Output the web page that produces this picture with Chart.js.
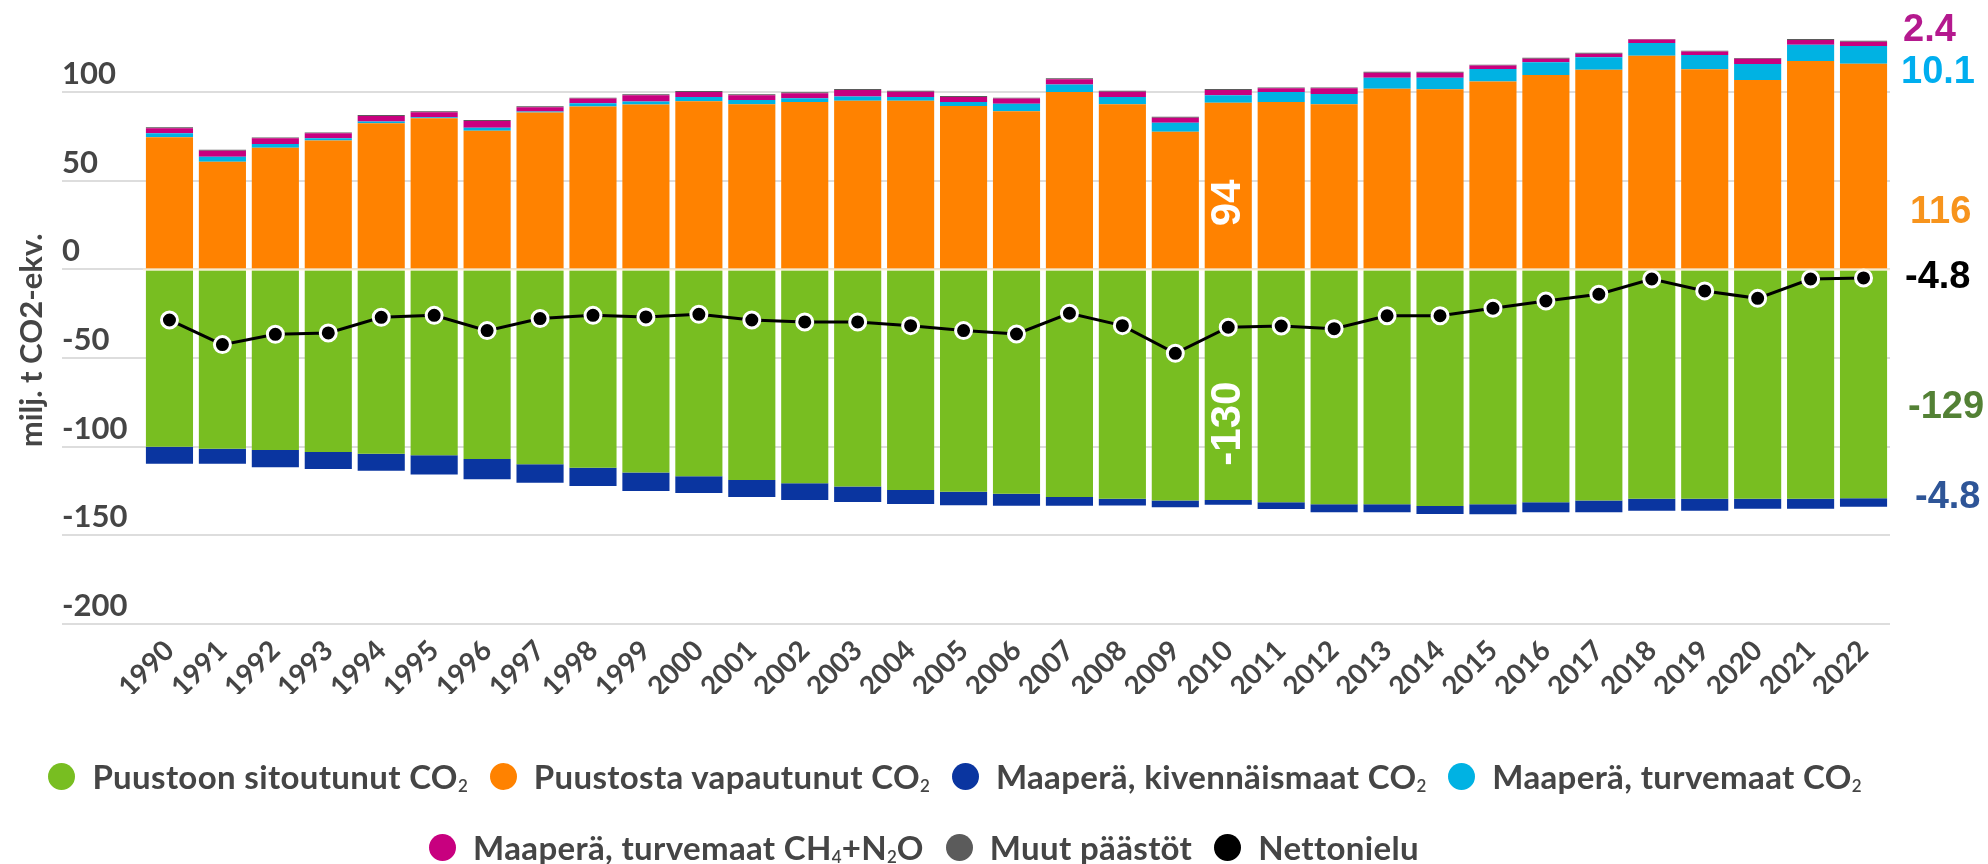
<!DOCTYPE html>
<html><head><meta charset="utf-8">
<script src="https://cdn.jsdelivr.net/npm/chart.js@4.4.1/dist/chart.umd.min.js"></script>
<style>
html,body{margin:0;padding:0;background:#fff;}
#wrap{position:relative;width:1988px;height:864px;overflow:hidden;background:#fff;}
#c{position:absolute;left:0;top:0;}
.lrow{position:absolute;left:0;display:flex;justify-content:center;align-items:center;height:40px;font-family:Lato,"Open Sans",sans-serif;font-weight:700;font-size:33px;letter-spacing:0.35px;color:#454545;white-space:nowrap;}
.litem{display:flex;align-items:center;margin:0 11px;}
.ldot{width:27px;height:27px;border-radius:50%;margin-right:17px;flex:none;}
.litem sub{font-size:17px;vertical-align:baseline;position:relative;top:3px;font-weight:600;letter-spacing:0;}
</style></head>
<body><div id="wrap"><canvas id="c" width="1988" height="864"></canvas>
<div id="row1" class="lrow" style="top:756px;width:1910px"></div>
<div id="row2" class="lrow" style="top:827px;width:1848px"></div>
</div>
<script>
// ---- data ----
const years = ['1990','1991','1992','1993','1994','1995','1996','1997','1998','1999','2000','2001','2002','2003','2004','2005','2006','2007','2008','2009','2010','2011','2012','2013','2014','2015','2016','2017','2018','2019','2020','2021','2022'];

const seriesLabels = ['Puustoon sitoutunut CO₂','Puustosta vapautunut CO₂','Maaperä, kivennäismaat CO₂','Maaperä, turvemaat CO₂','Maaperä, turvemaat CH₄+N₂O','Muut päästöt','Nettonielu'];

const sitoutunut = [-100.0,-101.1,-101.8,-103.0,-103.9,-104.8,-106.9,-109.9,-111.8,-114.6,-116.7,-118.8,-120.6,-122.5,-124.4,-125.4,-126.5,-128.4,-129.3,-130.4,-130.0,-131.3,-132.5,-132.5,-133.4,-132.5,-131.3,-130.4,-129.3,-129.3,-129.3,-129.3,-129.0];
const vapautunut = [74.6,60.8,68.7,72.7,82.5,85.3,78.3,88.5,91.9,93.0,94.9,93.2,94.5,95.2,95.2,92.2,89.3,100.1,93.2,77.7,94.0,94.5,93.2,102.0,101.7,106.0,109.7,112.6,120.5,113.0,106.9,117.6,116.0];
const kivennais = [-9.6,-8.5,-9.8,-9.6,-9.6,-10.8,-11.5,-10.4,-10.4,-10.4,-9.4,-9.6,-9.5,-8.7,-7.9,-7.6,-6.8,-4.9,-3.9,-3.8,-2.8,-3.8,-4.5,-4.5,-4.5,-5.6,-5.6,-6.6,-6.8,-6.8,-5.7,-5.7,-4.8];
const turveCO2 = [2.2,2.8,2.1,1.3,0.9,0.6,1.7,0.6,1.9,1.7,2.4,2.4,2.1,2.3,2.1,2.3,4.2,4.2,4.1,5.0,4.3,5.6,5.8,6.2,6.5,7.1,7.2,7.1,7.3,8.0,9.0,9.1,10.1];
const turveCH4N2O = [2.9,3.4,3.2,2.8,3.2,2.8,3.8,2.4,2.6,3.6,2.8,2.7,2.8,3.8,3.0,2.8,2.9,3.0,3.0,2.9,3.0,2.1,3.2,2.8,2.8,1.9,2.0,2.0,1.9,1.9,2.9,2.8,2.4];
const muut = [0.5,0.5,0.5,0.5,0.5,0.5,0.5,0.5,0.5,0.5,0.5,0.5,0.5,0.5,0.5,0.5,0.5,0.5,0.5,0.5,0.5,0.5,0.5,0.5,0.5,0.5,0.5,0.5,0.5,0.5,0.5,0.5,0.5];
const nettonielu = [-28.5,-42.4,-36.6,-35.8,-27.0,-25.9,-34.5,-27.7,-25.9,-26.8,-25.3,-28.5,-29.6,-29.6,-31.7,-34.5,-36.4,-24.7,-31.7,-47.3,-32.6,-31.9,-33.4,-26.1,-26.1,-21.9,-17.8,-14.0,-5.4,-12.1,-16.3,-5.4,-4.8];

const yTickValues = [-200,-150,-100,-50,0,50,100];

// ---- styling ----
const FONT = 'Lato, "Open Sans", sans-serif';
const COL = {green:'#78be21', orange:'#ff8200', blue:'#0a35a0', cyan:'#00b2e3', magenta:'#c8007f', gray:'#5b5b5b', black:'#000000'};

const last = years.length - 1;
const idx2010 = years.indexOf('2010');
const fmt1 = v => v.toFixed(1);
const fmt0 = v => Math.round(v).toString();

// right-side annotations: text from data, placement in value units
const rightNotes = [
  {text: fmt1(turveCH4N2O[last]), yv: 135,    dx: 13, color:'#b4198e'},
  {text: fmt1(turveCO2[last]),    yv: 111,    dx: 11, color:'#00aeef'},
  {text: fmt0(vapautunut[last]),  yv: 32,     dx: 20, color:'#f7941d'},
  {text: fmt1(nettonielu[last]),  yv: -4.8,   dx: 15, color:'#000000'},
  {text: fmt0(sitoutunut[last]),  yv: -78,    dx: 18, color:'#538135'},
  {text: fmt1(kivennais[last]),   yv: -128.6, dx: 25, color:'#2e5597'}
];
const inBarNotes = [
  {text: fmt0(vapautunut[idx2010]), yv: 37.5},
  {text: fmt0(sitoutunut[idx2010]), yv: -87}
];

const annotPlugin = {
  id: 'annot',
  afterDatasetsDraw(chart) {
    const {ctx, chartArea, scales: {x, y}} = chart;
    ctx.save();
    const y0 = y.getPixelForValue(0);
    ctx.strokeStyle = 'rgba(255,240,200,0.7)';
    ctx.lineWidth = 2;
    ctx.beginPath(); ctx.moveTo(chartArea.left, y0); ctx.lineTo(chartArea.right, y0); ctx.stroke();
    const xb = x.getPixelForValue(idx2010);
    ctx.fillStyle = '#ffffff';
    ctx.font = 'bold 42px "Liberation Sans", Arial, sans-serif';
    ctx.textAlign = 'center'; ctx.textBaseline = 'middle';
    inBarNotes.forEach(n => {
      ctx.save();
      ctx.translate(xb, y.getPixelForValue(n.yv));
      ctx.rotate(-Math.PI / 2);
      ctx.fillText(n.text, 0, 0);
      ctx.restore();
    });
    ctx.font = 'bold 38px "Liberation Sans", Arial, sans-serif';
    ctx.textAlign = 'left';
    rightNotes.forEach(n => {
      ctx.fillStyle = n.color;
      ctx.fillText(n.text, chartArea.right + n.dx, y.getPixelForValue(n.yv));
    });
    ctx.save();
    ctx.translate(32, y.getPixelForValue(-40));
    ctx.rotate(-Math.PI / 2);
    ctx.fillStyle = '#454545';
    ctx.font = 'bold 31px ' + FONT;
    ctx.textAlign = 'center'; ctx.textBaseline = 'middle';
    ctx.fillText('milj. t CO2-ekv.', 0, 0);
    ctx.restore();
    ctx.restore();
  }
};

const barBase = {type: 'bar', stack: 's', barPercentage: 0.89, categoryPercentage: 1.0, borderWidth: 0, order: 2};

const chart = new Chart(document.getElementById('c'), {
  data: {
    labels: years,
    datasets: [
      {...barBase, label: seriesLabels[0], data: sitoutunut, backgroundColor: COL.green},
      {...barBase, label: seriesLabels[1], data: vapautunut, backgroundColor: COL.orange},
      {...barBase, label: seriesLabels[2], data: kivennais, backgroundColor: COL.blue},
      {...barBase, label: seriesLabels[3], data: turveCO2, backgroundColor: COL.cyan},
      {...barBase, label: seriesLabels[4], data: turveCH4N2O, backgroundColor: COL.magenta},
      {...barBase, label: seriesLabels[5], data: muut, backgroundColor: COL.gray},
      {type: 'line', label: seriesLabels[6], data: nettonielu, stack: 'n', order: 1,
       borderColor: COL.black, backgroundColor: COL.black, borderWidth: 3, tension: 0,
       pointRadius: 8, pointBackgroundColor: COL.black, pointBorderColor: '#ffffff', pointBorderWidth: 3}
    ]
  },
  options: {
    responsive: false, animation: false, devicePixelRatio: 1,
    layout: {padding: {left: 62, right: 98, top: 39, bottom: 170}},
    plugins: {legend: {display: false}, tooltip: {enabled: false}},
    scales: {
      x: {
        stacked: true,
        grid: {display: false, drawTicks: false},
        border: {display: false},
        ticks: {autoSkip: false, maxRotation: 45, minRotation: 45, padding: 10, color: '#454545',
                font: {family: FONT, size: 28, weight: 'bold'}},
        afterFit(s) { s.height = 70; }
      },
      y: {
        stacked: true, min: -200, max: 130,
        afterBuildTicks(s) { s.ticks = yTickValues.map(v => ({value: v})); },
        grid: {color: '#dddddd', lineWidth: 2, tickLength: 81, drawTicks: true},
        border: {display: false},
        ticks: {crossAlign: 'far', labelOffset: -18, padding: 0, color: '#454545',
                font: {family: FONT, size: 31, weight: 'bold'}},
        afterFit(s) { s.width = 81; }
      }
    }
  },
  plugins: [annotPlugin]
});

function legendHTML(text) {
  return text.replace(/₂/g, '<sub>2</sub>').replace(/₄/g, '<sub>4</sub>');
}
const rows = [document.getElementById('row1'), document.getElementById('row2')];
chart.data.datasets.forEach((d, i) => {
  const item = document.createElement('div');
  item.className = 'litem';
  const dot = document.createElement('span');
  dot.className = 'ldot';
  dot.style.background = d.type === 'line' ? d.pointBackgroundColor : d.backgroundColor;
  const t = document.createElement('span');
  t.innerHTML = legendHTML(d.label);
  item.appendChild(dot); item.appendChild(t);
  rows[i < 4 ? 0 : 1].appendChild(item);
});
</script>
</body></html>
